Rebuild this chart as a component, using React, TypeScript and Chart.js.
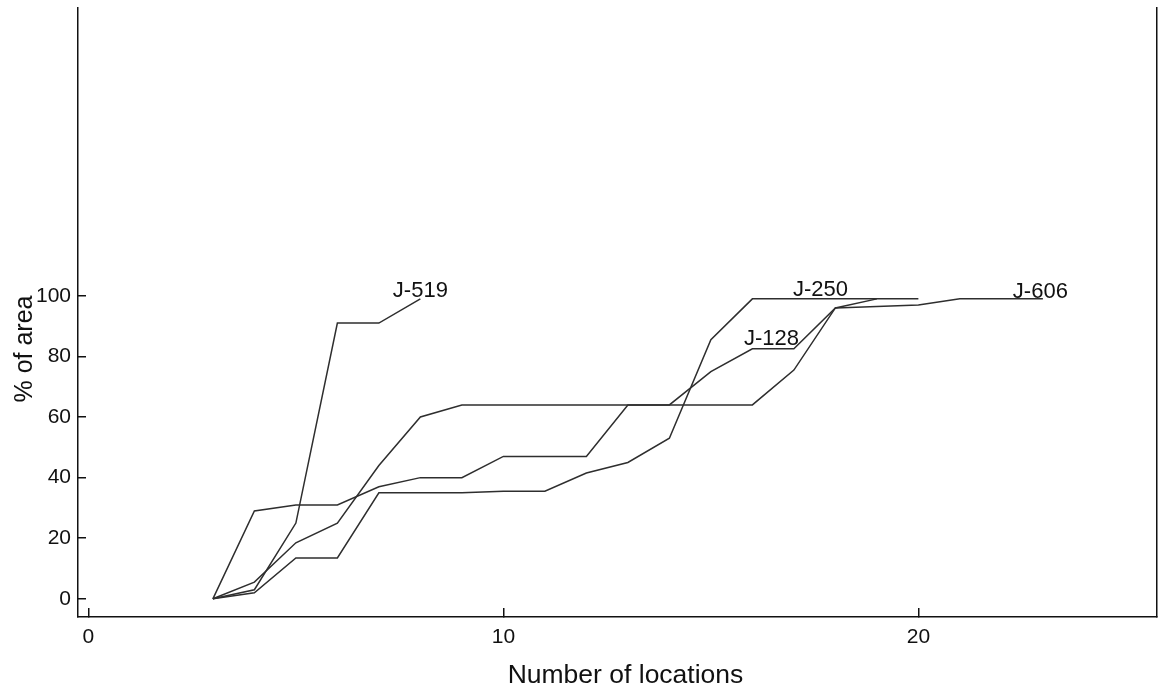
import React, { useEffect, useRef } from "react";
import { Chart, registerables } from "chart.js";

Chart.register(...registerables);

// ---- data ----
const xTicks = [0, 10, 20];
const yTicks = [0, 20, 40, 60, 80, 100];

const j519X = [3, 4, 5, 6, 7, 8];
const j519Y = [0, 3, 25, 91, 91, 99];

const j128X = [3, 4, 5, 6, 7, 8, 9, 10, 11, 12, 13, 14, 15, 16, 17, 18, 19];
const j128Y = [0, 29, 31, 31, 37, 40, 40, 47, 47, 47, 64, 64, 75, 82.5, 82.5, 96, 99];

const j250X = [3, 4, 5, 6, 7, 8, 9, 10, 11, 12, 13, 14, 15, 16, 17, 18, 19, 20];
const j250Y = [0, 2, 13.5, 13.5, 35, 35, 35, 35.5, 35.5, 41.5, 45, 53, 85.5, 99, 99, 99, 99, 99];

const j606X = [3, 4, 5, 6, 7, 8, 9, 10, 11, 12, 13, 14, 15, 16, 17, 18, 19, 20, 21, 22, 23];
const j606Y = [0, 5.5, 18.5, 25, 44, 60, 64, 64, 64, 64, 64, 64, 64, 64, 75.5, 96, 96.5, 97, 99, 99, 99];

const seriesNames = ["J-519", "J-128", "J-250", "J-606"];
const labelX = [8.0, 16.46, 17.64, 22.94];
const labelY = [101.7, 85.8, 102, 101.3];

const xTitle = "Number of locations";
const yTitle = "% of area";

const FONT = "'Liberation Sans', Arial, Helvetica, sans-serif";
const INK = "#111111";
const LINE = "#2e2e2e";

function pts(xs: number[], ys: number[]) {
  return xs.map((x, i) => ({ x, y: ys[i] }));
}

export default function App() {
  const ref = useRef<HTMLCanvasElement>(null);

  useEffect(() => {
    document.body.style.margin = "0";
    const canvas = ref.current;
    if (!canvas) return;

    const textPlugin = {
      id: "textPlugin",
      afterDraw(chart: any) {
        const { ctx } = chart;
        const xs = chart.scales.x;
        const ys = chart.scales.y;
        ctx.save();
        ctx.fillStyle = INK;
        ctx.font = `22px ${FONT}`;
        ctx.textAlign = "center";
        ctx.textBaseline = "middle";
        seriesNames.forEach((n, i) => {
          ctx.fillText(n, xs.getPixelForValue(labelX[i]), ys.getPixelForValue(labelY[i]));
        });
        ctx.textBaseline = "alphabetic";
        const ca = chart.chartArea;
        ctx.font = `26.5px ${FONT}`;
        ctx.fillText(xTitle, (ca.left + ca.right) / 2 + 8, 683);
        ctx.font = `25px ${FONT}`;
        ctx.translate(32, 349);
        ctx.rotate(-Math.PI / 2);
        ctx.fillText(yTitle, 0, 0);
        ctx.restore();
      },
    };

    const mkDs = (xs: number[], ys: number[], label: string) => ({
      label,
      data: pts(xs, ys),
      borderColor: LINE,
      borderWidth: 1.5,
      pointRadius: 0,
      tension: 0,
      fill: false,
    });

    const noPad = (s: any) => {
      s.paddingTop = 0;
      s.paddingBottom = 0;
      s.paddingLeft = 0;
      s.paddingRight = 0;
    };

    const chart = new Chart(canvas, {
      type: "line",
      data: {
        datasets: [
          mkDs(j519X, j519Y, seriesNames[0]),
          mkDs(j128X, j128Y, seriesNames[1]),
          mkDs(j250X, j250Y, seriesNames[2]),
          mkDs(j606X, j606Y, seriesNames[3]),
        ],
      },
      options: {
        animation: false,
        responsive: true,
        maintainAspectRatio: false,
        layout: { padding: { top: 8, left: 0, right: 0, bottom: 0 } },
        plugins: { legend: { display: false }, tooltip: { enabled: false } },
        scales: {
          x: {
            type: "linear",
            min: -0.25,
            max: 25.75,
            afterBuildTicks: (s: any) => {
              s.ticks = xTicks.map((v) => ({ value: v }));
            },
            afterFit: (s: any) => {
              s.height = 81;
              noPad(s);
            },
            grid: {
              drawOnChartArea: false,
              drawTicks: true,
              tickLength: -9,
              color: INK,
              lineWidth: 1.5,
            },
            border: { display: true, color: INK, width: 1.5 },
            ticks: {
              padding: 17,
              color: INK,
              maxRotation: 0,
              autoSkip: false,
              font: { family: FONT, size: 21 },
            },
          },
          y: {
            type: "linear",
            position: "left",
            min: -6,
            max: 195,
            afterBuildTicks: (s: any) => {
              s.ticks = yTicks.map((v) => ({ value: v }));
            },
            afterFit: (s: any) => {
              s.width = 78;
              noPad(s);
            },
            grid: {
              drawOnChartArea: false,
              drawTicks: true,
              tickLength: -8,
              color: INK,
              lineWidth: 1.5,
            },
            border: { display: true, color: INK, width: 1.5 },
            ticks: {
              padding: 15,
              color: INK,
              autoSkip: false,
              font: { family: FONT, size: 21 },
            },
          },
          y2: {
            type: "linear",
            position: "right",
            min: -6,
            max: 195,
            afterFit: (s: any) => {
              s.width = 2;
              noPad(s);
            },
            grid: { display: true, drawOnChartArea: false, drawTicks: false, lineWidth: 1.5, color: INK },
            border: { display: true, color: INK, width: 1.5 },
            ticks: { display: false },
          },
        },
      },
      plugins: [textPlugin],
    } as any);

    return () => chart.destroy();
  }, []);

  return (
    <div style={{ width: "1159px", height: "698px", position: "relative" }}>
      <canvas ref={ref} />
    </div>
  );
}
